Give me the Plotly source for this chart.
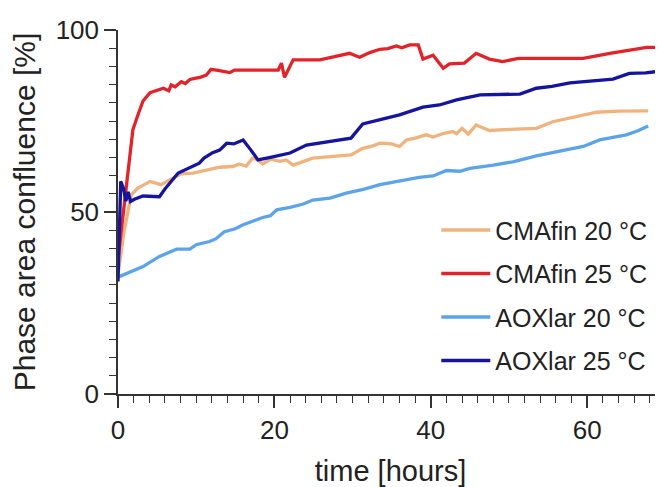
import plotly.graph_objects as go

# ---- data ----
cma20_t = [0, 0.8, 1.7, 2.5, 4.1, 5.5, 7.0, 8.1, 9.6, 11.3, 13.0, 14.7, 15.5, 16.4, 16.8, 17.2,
           17.9, 18.5, 19.5, 20.7, 21.5, 22.4, 24.9, 27.0, 29.8, 31.3, 32.5, 33.5, 35.0, 36.0,
           36.9, 38.0, 39.4, 40.3, 41.5, 42.8, 43.3, 44.0, 44.8, 45.8, 47.5, 50.0, 53.5, 55.6,
           58.6, 61.2, 64.0, 67.8]
cma20_v = [32.8, 45.0, 54.7, 56.5, 58.4, 57.5, 59.3, 60.5, 60.7, 61.6, 62.3, 62.5, 63.2, 62.6, 63.8, 64.8,
           64.3, 63.2, 64.5, 63.9, 64.3, 62.9, 64.8, 65.2, 65.7, 67.5, 68.1, 68.9, 68.7, 68.0,
           69.8, 70.3, 71.2, 70.6, 71.5, 72.1, 71.5, 73.0, 71.4, 73.9, 72.4, 72.7, 73.0, 74.8,
           76.2, 77.4, 77.7, 77.8]

cma25_t = [0, 0.5, 1.0, 1.5, 1.9, 2.6, 3.2, 4.1, 5.0, 5.8, 6.5, 6.8, 7.3, 8.1, 8.6, 9.2, 9.8, 10.5,
           11.3, 11.9, 12.8, 13.6, 14.3, 14.9, 17.0, 20.5, 20.9, 21.3, 22.4, 25.8, 28.0, 29.6,
           30.9, 32.2, 33.5, 34.5, 35.6, 36.3, 37.3, 38.4, 39.0, 40.3, 41.6, 42.4, 44.3, 45.8,
           47.5, 49.2, 51.2, 59.5, 62.9, 67.6, 69.7]
cma25_v = [37.0, 46.0, 56.0, 65.0, 72.6, 77.0, 80.5, 82.8, 83.4, 84.0, 83.3, 84.9, 84.4, 85.8, 85.3, 86.4, 86.7, 87.0,
           87.6, 89.2, 88.9, 88.6, 88.3, 89.0, 89.0, 89.0, 90.9, 87.0, 91.8, 91.8, 92.8, 93.6,
           92.5, 93.8, 94.7, 94.9, 95.6, 95.1, 95.9, 95.9, 92.0, 93.1, 89.5, 90.7, 90.9, 93.6,
           92.0, 91.3, 92.2, 92.2, 93.6, 95.2, 95.2]

aox20_t = [0, 1.5, 3.2, 5.3, 6.5, 7.5, 9.2, 10.0, 11.7, 12.5, 13.6, 15.0, 16.0, 18.5, 19.5, 20.3,
           22.0, 23.7, 24.9, 27.1, 29.2, 31.5, 33.5, 35.5, 36.9, 38.5, 40.3, 41.5, 42.0, 43.7,
           45.0, 48.0, 50.5, 53.5, 56.5, 59.5, 61.6, 63.5, 65.0, 66.5, 67.8]
aox20_v = [32.1, 33.4, 35.0, 37.8, 38.8, 39.8, 39.8, 41.0, 41.9, 42.6, 44.6, 45.4, 46.5, 48.5, 49.0, 50.6,
           51.3, 52.2, 53.3, 53.8, 55.2, 56.3, 57.5, 58.3, 59.0, 59.5, 59.9, 60.8, 61.4, 61.2,
           62.0, 62.9, 63.8, 65.4, 66.7, 68.0, 69.8, 70.5, 71.2, 72.3, 73.6]

aox25_t = [0, 0.35, 0.7, 1.0, 1.3, 1.6, 2.1, 3.2, 5.3, 6.0, 7.7, 9.0, 10.4, 11.0, 12.1, 13.0, 13.9,
           14.8, 15.3, 16.0, 17.0, 17.9, 19.5, 22.0, 24.1, 27.5, 29.8, 31.3, 33.5, 36.0, 39.0,
           41.1, 43.3, 45.0, 46.3, 51.4, 53.5, 55.5, 57.8, 63.3, 65.4, 67.5, 69.7]
aox25_v = [30.9, 58.4, 56.5, 53.0, 55.5, 52.9, 53.5, 54.4, 54.2, 56.3, 60.7, 62.0, 63.4, 64.8, 66.3, 67.0, 68.9,
           68.7, 69.2, 69.8, 67.0, 64.3, 65.0, 66.2, 68.4, 69.6, 70.3, 74.2, 75.3, 76.7, 78.8,
           79.4, 80.8, 81.7, 82.2, 82.4, 84.0, 84.5, 85.5, 86.5, 88.1, 88.2, 88.8]

series_names = ["CMAfin 20 °C", "CMAfin 25 °C", "AOXlar 20 °C", "AOXlar 25 °C"]
series_t = [cma20_t, cma25_t, aox20_t, aox25_t]
series_v = [cma20_v, cma25_v, aox20_v, aox25_v]
colors = ["#F0B37E", "#E2232A", "#5CA4EA", "#14149E"]

x_ticks = [0, 20, 40, 60]
y_ticks = [0, 50, 100]

FONT = "Arial, 'Liberation Sans', sans-serif"

fig = go.Figure()
for i, (name, t, v, c) in enumerate(zip(series_names, series_t, series_v, colors)):
    fig.add_trace(go.Scatter(x=t, y=v, mode="lines", name=name, legendgroup=f"g{i}",
                             line=dict(color=c, width=3.3)))

axis_common = dict(
    showline=True, linecolor="#333333", linewidth=1.5, showgrid=False, zeroline=False,
    ticks="outside", ticklen=12, tickwidth=1.5, tickcolor="#333333",
    tickfont=dict(family=FONT, size=26, color="#222222"),
)

fig.update_xaxes(range=[0, 69.7], tickvals=x_ticks, **axis_common,
                 minor=dict(dtick=2, ticks="outside", ticklen=7, tickwidth=1.2, tickcolor="#333333"),
                 title=dict(text="time [hours]", font=dict(family=FONT, size=29, color="#222222"), standoff=19))
fig.update_yaxes(range=[0, 100], tickvals=y_ticks, **axis_common,
                 minor=dict(dtick=5, ticks="outside", ticklen=7, tickwidth=1.2, tickcolor="#333333"),
                 title=dict(text="Phase area confluence [%]", font=dict(family=FONT, size=30, color="#222222"), standoff=12))

# The page body adds an 8 px offset; sizes compensate so the plot area lands where the reference has it.
fig.update_layout(
    width=655, height=479,
    margin=dict(l=110, r=0, t=22, b=93),
    plot_bgcolor="white", paper_bgcolor="white",
    showlegend=True,
    legend=dict(x=0.584, y=0.513, xanchor="left", yanchor="top",
                font=dict(family=FONT, size=25, color="#222222"),
                traceorder="grouped", tracegroupgap=8, itemwidth=49,
                bgcolor="rgba(0,0,0,0)"),
)

fig.write_html("out.html")
